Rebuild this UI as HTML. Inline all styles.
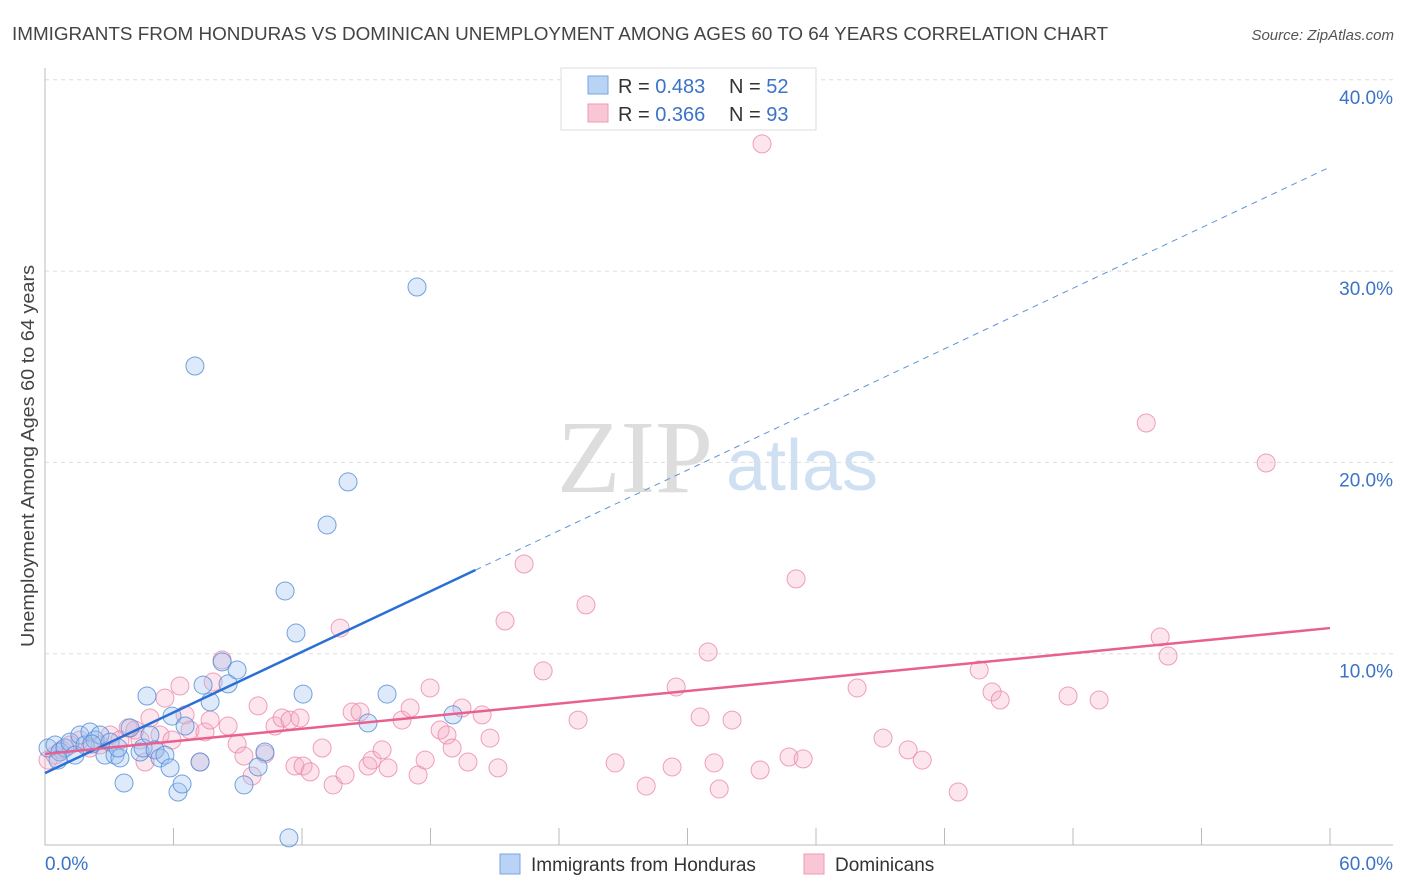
<!DOCTYPE html>
<html><head><meta charset="utf-8"><style>
body{margin:0;background:#fff;font-family:"Liberation Sans",sans-serif}
</style></head><body>
<svg id="c" width="1406" height="892" xmlns="http://www.w3.org/2000/svg" style="display:block">
<text x="12" y="40" font-size="18" fill="#444" textLength="1096" lengthAdjust="spacingAndGlyphs">IMMIGRANTS FROM HONDURAS VS DOMINICAN UNEMPLOYMENT AMONG AGES 60 TO 64 YEARS CORRELATION CHART</text>
<text x="1394" y="40" font-size="15" fill="#555" text-anchor="end" font-style="italic">Source: ZipAtlas.com</text>
<text transform="translate(34,456) rotate(-90)" font-size="18" fill="#444" text-anchor="middle" textLength="382" lengthAdjust="spacingAndGlyphs">Unemployment Among Ages 60 to 64 years</text>
<g><text x="635" y="492" font-size="104" fill="#ddd" text-anchor="middle" font-family="Liberation Serif,serif">ZIP</text><text x="802" y="490" font-size="72" fill="#cfe0f3" text-anchor="middle">atlas</text></g>
<g id="grid"></g><g id="pts"></g><g id="lines"></g>
<g>
<rect x="561" y="68" width="255" height="62" fill="#fff" stroke="#ddd"/>
<rect x="588" y="76" width="20" height="18" fill="#b9d3f5" stroke="#7aa6e0"/>
<rect x="588" y="104" width="20" height="18" fill="#f9c6d6" stroke="#ee99b4"/>
<text x="618" y="93" font-size="20" fill="#333">R = <tspan fill="#3b73c8">0.483</tspan></text><text x="729" y="93" font-size="20" fill="#333">N = <tspan fill="#3b73c8">52</tspan></text>
<text x="618" y="121" font-size="20" fill="#333">R = <tspan fill="#3b73c8">0.366</tspan></text><text x="729" y="121" font-size="20" fill="#333">N = <tspan fill="#3b73c8">93</tspan></text>
</g>
<g>
<rect x="500" y="854" width="20" height="20" fill="#b9d3f5" stroke="#7aa6e0"/>
<text x="531" y="871" font-size="19" fill="#333">Immigrants from Honduras</text>
<rect x="804" y="854" width="20" height="20" fill="#f9c6d6" stroke="#ee99b4"/>
<text x="835" y="871" font-size="19" fill="#333">Dominicans</text>
</g>
</svg>
<script>
const blueX=[0.14,0.47,0.70,0.93,1.17,1.40,1.63,1.87,2.10,2.34,2.57,2.80,3.04,3.27,3.50,3.69,3.97,4.44,4.58,4.76,4.90,5.14,5.37,5.60,5.84,5.93,6.21,6.40,6.54,7.00,7.24,7.38,7.71,8.27,8.55,8.97,9.29,9.95,10.27,11.21,11.39,11.72,12.05,13.17,14.15,15.08,15.97,17.37,19.05,3.41,2.19,0.61];
const blueY=[5.07,5.23,4.86,5.07,5.38,4.70,5.75,5.23,5.91,5.49,5.75,4.70,5.38,4.70,4.55,3.24,6.12,4.86,5.07,7.79,5.75,4.97,4.55,4.70,4.03,6.74,2.77,3.19,6.22,25.04,4.34,8.36,7.48,9.57,8.42,9.15,3.14,4.08,4.86,13.28,0.37,11.08,7.89,16.73,18.98,6.38,7.89,29.17,6.80,5.07,5.28,4.44];
const pinkX=[0.14,0.47,0.79,1.17,1.63,2.10,2.57,3.04,3.50,3.88,4.20,4.44,4.67,4.90,5.14,5.37,5.60,5.93,6.30,6.54,6.77,7.24,7.47,7.71,7.85,8.27,8.55,8.97,9.29,9.67,9.95,10.27,10.74,11.07,11.44,11.67,11.91,12.05,12.38,12.94,13.45,13.78,14.01,14.34,14.71,15.08,15.27,15.74,16.02,16.67,17.05,17.42,17.75,17.98,18.45,18.77,19.01,19.47,19.75,20.41,20.78,21.15,21.48,22.37,23.26,24.89,25.26,26.62,28.07,29.28,29.47,30.59,30.96,31.24,31.48,32.08,33.39,33.48,34.74,35.07,35.40,37.92,39.13,40.30,40.96,42.64,43.62,44.22,44.60,47.77,49.22,51.42,52.07,52.44,57.02];
const pinkY=[4.44,4.70,4.97,5.23,5.49,5.07,5.23,5.75,5.49,6.12,6.01,5.49,4.34,6.64,4.97,5.75,7.68,5.49,8.31,6.80,6.01,4.34,5.91,6.53,8.52,9.67,6.22,5.28,4.65,3.61,7.27,4.76,6.22,6.64,6.53,4.13,6.64,4.13,3.82,5.07,3.14,11.34,3.66,6.95,6.95,4.13,4.44,4.97,4.03,6.53,7.16,3.66,4.44,8.21,6.01,5.75,5.07,7.16,4.34,6.80,5.59,4.03,11.71,14.69,9.10,6.53,12.55,4.29,3.08,4.08,8.26,6.69,10.09,4.29,2.93,6.53,3.92,36.65,4.60,13.91,4.50,8.21,5.59,4.97,4.44,2.77,9.15,8.00,7.58,7.79,7.58,22.06,10.87,9.88,19.97];
const yTicks=[10,20,30,40];
const blueTrend=[3.76,35.44], blueSolidEnd=20.1;
const pinkTrend=[4.76,11.34];
const NS='http://www.w3.org/2000/svg';
const sx=v=>45+v/60*1285, sy=v=>845-v*19.13;
function mk(p,t,a){const e=document.createElementNS(NS,t);for(const k in a)e.setAttribute(k,a[k]);p.appendChild(e);return e;}
const g=document.getElementById('grid');
yTicks.forEach(t=>{
 const l=mk(g,'line',{x1:45,x2:1393,y1:sy(t),y2:sy(t),stroke:'#ddd','stroke-dasharray':'4,4'});
 
 
 const tx=mk(g,'text',{x:1393,y:sy(t)+24,'font-size':19,fill:'#3b73c8','text-anchor':'end'});tx.textContent=t.toFixed(1)+'%';
 
 
});
const ax=mk(g,'path',{d:'M45,68V845H1393',fill:'none',stroke:'#bbb'});


for(let i=1;i<=10;i++){const x=sx(i*6);const t=mk(g,'line',{x1:x,x2:x,y1:828,y2:845,stroke:'#bbb'});
 
 }
[['0.0%',45,'start'],['60.0%',1393,'end']].forEach(([s,x,a])=>{const t=mk(g,'text',{x:x,y:870,'font-size':19,fill:'#3b73c8','text-anchor':a});t.textContent=s;
 
 });
const P=document.getElementById('pts');
pinkX.forEach((x,i)=>{const c=mk(P,'circle',{cx:sx(x),cy:sy(pinkY[i]),r:9,fill:'rgba(246,170,196,0.3)',stroke:'rgba(234,130,165,0.75)','stroke-width':1});
 
 });
blueX.forEach((x,i)=>{const c=mk(P,'circle',{cx:sx(x),cy:sy(blueY[i]),r:9,fill:'rgba(160,196,240,0.35)',stroke:'rgba(80,140,215,0.8)','stroke-width':1});
 
 });
const L=document.getElementById('lines');
const by=x=>blueTrend[0]+(blueTrend[1]-blueTrend[0])*x/60;
const b1=mk(L,'line',{x1:sx(0),y1:sy(by(0)),x2:sx(blueSolidEnd),y2:sy(by(blueSolidEnd)),stroke:'#2a6fd6','stroke-width':2.5});


const b2=mk(L,'line',{x1:sx(blueSolidEnd),y1:sy(by(blueSolidEnd)),x2:sx(60),y2:sy(by(60)),stroke:'#5c93d8','stroke-width':1,'stroke-dasharray':'6,5'});


const p1=mk(L,'line',{x1:sx(0),y1:sy(pinkTrend[0]),x2:sx(60),y2:sy(pinkTrend[1]),stroke:'#e8608f','stroke-width':2.5});


</script>
</body></html>
